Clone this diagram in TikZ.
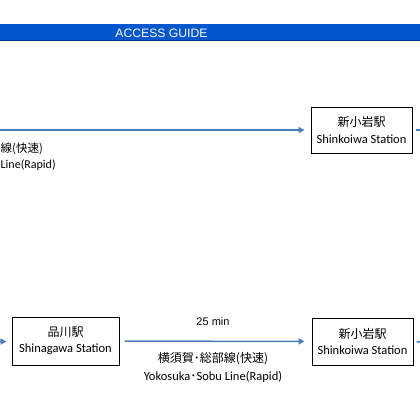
\documentclass[tikz,border=0pt]{standalone}
\usepackage{fontspec}
\setmainfont{Carlito}
\newfontfamily\jpfont{Noto Sans CJK JP}
\newfontfamily\arialfont{Liberation Sans}
\usetikzlibrary{arrows.meta, positioning}

\definecolor{barblue}{RGB}{0,86,204}
\definecolor{bardark}{RGB}{0,50,140}
\definecolor{lineblue}{RGB}{74,126,187}

\tikzset{
  stationbox/.style={draw=black, line width=1pt, fill=white, align=center,
    minimum width=101pt, minimum height=46pt, inner sep=0pt,
    font=\fontsize{12.5}{16.5}\selectfont},
  railline/.style={draw=lineblue, line width=1.5pt,
    -{Triangle[length=6pt,width=6pt]}},
  linelabel/.style={inner sep=0pt, font=\fontsize{12.5}{14}\selectfont}
}

\begin{document}
\begin{tikzpicture}[x=1pt, y=-1pt]
\useasboundingbox (0,0) rectangle (420,420);
\clip (0,0) rectangle (420,420);
\fill[white] (0,0) rectangle (420,420);
% title bar
\fill[barblue] (-2,24) rectangle (422,41);
\draw[bardark, line width=0.8pt] (-2,40.6) -- (422,40.6);
\node[text=white, font=\arialfont\fontsize{12.2}{14}\selectfont] (title) at (161.5,33) {ACCESS GUIDE};

% upper route
\node[stationbox] (shinkoiwaA) at (361.5,130) {{\jpfont\fontsize{12}{16.5}\selectfont 新小岩駅}\\Shinkoiwa Station};
\coordinate (upstart) at (-10,130);
\coordinate (upend) at (450,130);
\draw[railline, shorten >=6pt] (upstart) -- (shinkoiwaA);
\draw[railline, shorten <=3pt] (shinkoiwaA) -- (upend);
\node[linelabel, anchor=west, font=\jpfont\fontsize{11.5}{14}\selectfont] (uplinejp) at (0.5,149) {線(快速)};
\node[linelabel, anchor=west, font=\fontsize{12}{14}\selectfont] (uplineen) at (0.5,165) {Line(Rapid)};

% lower route
\node[stationbox, minimum width=107pt, minimum height=48pt] (shinagawa) at (65.5,341) {{\jpfont\fontsize{12}{16.5}\selectfont 品川駅}\\Shinagawa Station};
\node[stationbox, minimum height=47pt] (shinkoiwaB) at (362.5,341.5) {{\jpfont\fontsize{12}{16.5}\selectfont 新小岩駅}\\Shinkoiwa Station};
\coordinate (lowstart) at (-40,342);
\coordinate (lowend) at (450,342);
\draw[railline, shorten >=5pt] (lowstart) -- (shinagawa);
\draw[railline, shorten <=5pt, shorten >=7pt] (shinagawa) -- (shinkoiwaB);
\draw[railline, shorten <=3pt] (shinkoiwaB) -- (lowend);
\node[font=\arialfont\fontsize{11}{13}\selectfont] (traveltime) at (213,322) {25 min};
\node[linelabel, font=\jpfont\fontsize{12}{14}\selectfont] (lowlinejp) at (213,359) {横須賀･総部線(快速)};
\node[linelabel] (lowlineen) at (213,377) {Yokosuka{\jpfont ･}Sobu Line(Rapid)};
\end{tikzpicture}
\end{document}
